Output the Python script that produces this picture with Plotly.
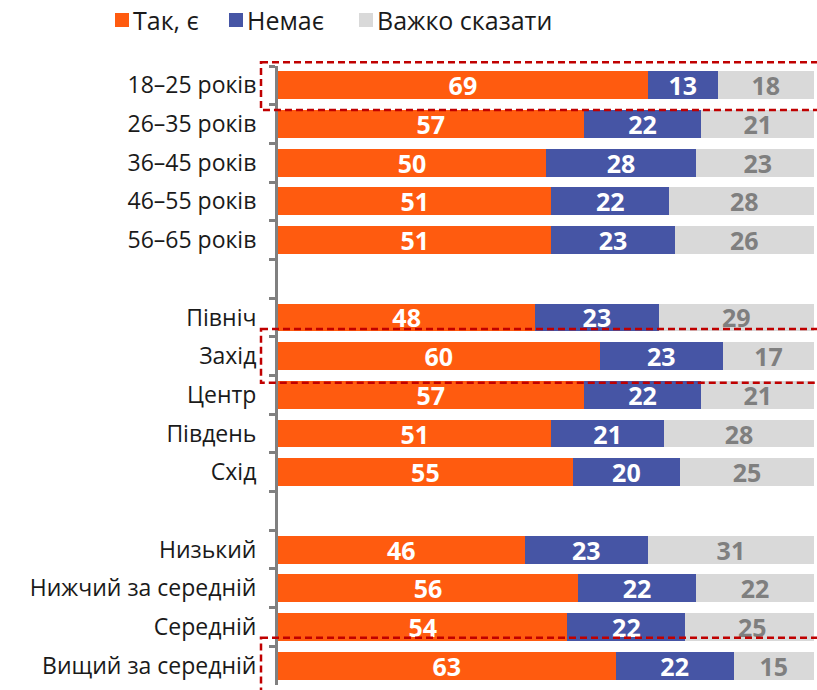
import plotly.graph_objects as go

categories = ["18–25 років", "26–35 років", "36–45 років", "46–55 років", "56–65 років", " ",
              "Північ", "Захід", "Центр", "Південь", "Схід", "  ",
              "Низький", "Нижчий за середній", "Середній", "Вищий за середній"]
yes_vals = [69, 57, 50, 51, 51, None, 48, 60, 57, 51, 55, None, 46, 56, 54, 63]
no_vals = [13, 22, 28, 22, 23, None, 23, 23, 22, 21, 20, None, 23, 22, 22, 22]
hard_vals = [18, 21, 23, 28, 26, None, 29, 17, 21, 28, 25, None, 31, 22, 25, 15]
series_names = ["Так, є", "Немає", "Важко сказати"]
highlight_rows = ["18–25 років", "Захід", "Вищий за середній"]

colors = ["#FF5B0F", "#4655A5", "#D9D9D9"]
text_colors = ["white", "white", "#7F7F7F"]
FONT = "Open Sans, Noto Sans, DejaVu Sans, sans-serif"

W, H = 817, 690
ML, MR, MT, MB = 278, 3, 66, 5
PW, PH = W - ML - MR, H - MT - MB
N = len(categories)


def px_x(px):
    return (px - ML) / PW


def px_y(py):
    return (H - MB - py) / PH


def cat_to_paper(v):
    # reversed category axis with range [N-0.5, -0.5]
    return 1 - (v + 0.5) / N


fig = go.Figure()
for name, vals, c, tc in zip(series_names, [yes_vals, no_vals, hard_vals], colors, text_colors):
    fig.add_trace(go.Bar(
        y=categories, x=vals, name=name, orientation="h",
        marker=dict(color=c, line=dict(width=0)),
        text=[("" if v is None else str(v)) for v in vals],
        textposition="inside", insidetextanchor="middle", textangle=0,
        constraintext="none",
        textfont=dict(color=tc, size=25, family=FONT, weight="bold"),
        showlegend=False, hoverinfo="skip",
    ))

# highlight frames
pads = [(0.6, 0.64), (0.7, 0.69), (0.72, 0.8)]
for row, (p0, p1) in zip(highlight_rows, pads):
    i = categories.index(row)
    fig.add_shape(type="rect", xref="paper", yref="paper",
                  x0=px_x(261), x1=px_x(830),
                  y0=cat_to_paper(i - p0), y1=cat_to_paper(i + p1),
                  line=dict(color="#C00000", width=2.5, dash="7px,4px"),
                  fillcolor="rgba(0,0,0,0)", layer="above")

# legend (manual, to match compact swatch spacing)
legend_swatch_x = [115, 229, 359]
for name, c, sx in zip(series_names, colors, legend_swatch_x):
    fig.add_shape(type="rect", xref="paper", yref="paper",
                  x0=px_x(sx), x1=px_x(sx + 14), y0=px_y(27), y1=px_y(13),
                  fillcolor=c, line=dict(width=0))
    fig.add_annotation(xref="paper", yref="paper", x=px_x(sx + 16), y=px_y(20),
                       xanchor="left", yanchor="middle", text=name, showarrow=False,
                       font=dict(size=25, color="#1a1a1a", family=FONT))

fig.update_layout(
    barmode="stack", bargap=0.28,
    width=W, height=H,
    margin=dict(l=ML, r=MR, t=MT, b=MB, autoexpand=False),
    plot_bgcolor="white", paper_bgcolor="white",
    font=dict(family=FONT, size=23, color="#1a1a1a"),
    showlegend=False,
)
fig.update_xaxes(range=[0, 100], visible=False, showgrid=False, fixedrange=True)
fig.update_yaxes(categoryorder="array", categoryarray=categories,
                 range=[N - 0.5, -0.5], autorange=False,
                 showline=True, linecolor="#808080", linewidth=3,
                 ticks="outside", tickson="boundaries", ticklen=6, tickwidth=3, tickcolor="#808080",
                 ticklabelstandoff=14,
                 tickfont=dict(size=23, color="#1a1a1a", family=FONT),
                 showgrid=False, fixedrange=True)

fig.write_html("out.html", config={"displayModeBar": False},
               post_script="document.body.style.margin='0';document.body.style.overflow='hidden';")
